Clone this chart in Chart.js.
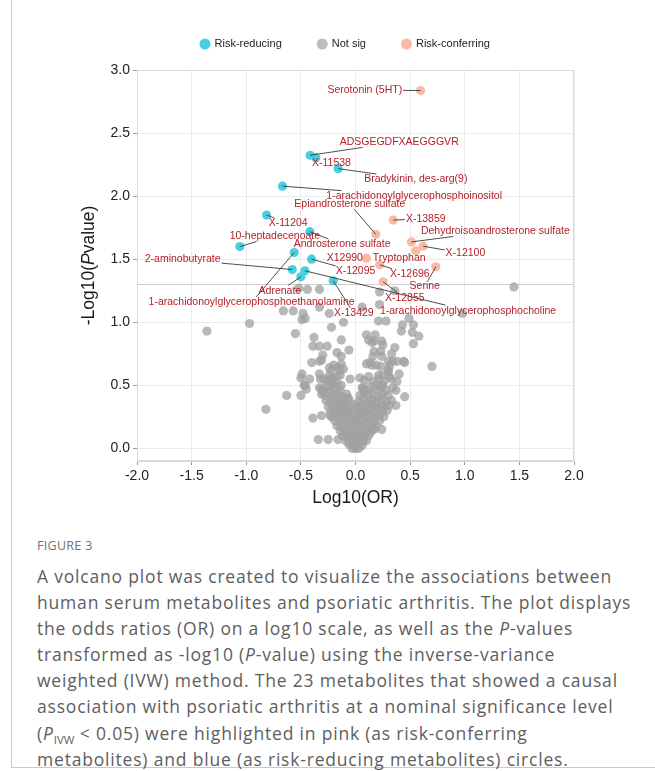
<!DOCTYPE html>
<html>
<head>
<meta charset="utf-8">
<script src="https://cdn.jsdelivr.net/npm/chart.js@4.4.1/dist/chart.umd.min.js"></script>
<style>
  html, body { margin: 0; padding: 0; background: #fff; }
  body { width: 655px; height: 771px; position: relative; overflow: hidden; }
  #frame { position: absolute; left: 11px; top: -2px; width: 650px; height: 769px;
           border-left: 1px solid #c9c9c9; border-bottom: 1px solid #c9c9c9; }
  #chart { position: absolute; left: 0; top: 0; }
  #figlabel { position: absolute; left: 37px; top: 537px; font: 500 12.5px 'Open Sans', Lato, sans-serif;
              color: #727272; letter-spacing: 0.3px; }
  #caption { position: absolute; left: 37px; top: 563px; font: 400 17.5px 'Open Sans', Lato, sans-serif;
             color: #5e5e5e; line-height: 26.1px; white-space: nowrap; }
  #caption div { display: block; width: max-content; }
  #caption sub { font-size: 11.5px; vertical-align: -4px; line-height: 0; letter-spacing: 0; }
</style>
</head>
<body>
<div id="frame"></div>
<canvas id="chart" width="655" height="520"></canvas>
<div id="figlabel">FIGURE 3</div>
<div id="caption">
<div id="firstLine">A volcano plot was created to visualize the associations between</div>
<div>human serum metabolites and psoriatic arthritis. The plot displays</div>
<div>the odds ratios (OR) on a log10 scale, as well as the <i>P</i>-values</div>
<div>transformed as -log10 (<i>P</i>-value) using the inverse-variance</div>
<div>weighted (IVW) method. The 23 metabolites that showed a causal</div>
<div>association with psoriatic arthritis at a nominal significance level</div>
<div>(<i>P</i><sub>IVW</sub> &lt; 0.05) were highlighted in pink (as risk-conferring</div>
<div>metabolites) and blue (as risk-reducing metabolites) circles.</div>
</div>
<script>
// axis ticks
var xTicks = [-2.0, -1.5, -1.0, -0.5, 0.0, 0.5, 1.0, 1.5, 2.0];
var yTicks = [0.0, 0.5, 1.0, 1.5, 2.0, 2.5, 3.0];
var pThreshold = 0.05;

// risk-reducing metabolites (blue)
var reducingNames = ['ADSGEGDFXAEGGGVR', 'X-11538', 'Bradykinin, des-arg(9)',
  '1-arachidonoylglycerophosphoinositol', 'X-11204', '10-heptadecenoate', 'Androsterone sulfate',
  '2-aminobutyrate', '1-arachidonoylglycerophosphoethanolamine', 'Adrenate', 'X-12095',
  '1-arachidonoylglycerophosphocholine', 'X-13429'];
var reducingLogOR = [-0.415, -0.363, -0.159, -0.668, -0.814, -1.058, -0.418, -0.579, -0.561, -0.50, -0.402, -0.463, -0.204];
var reducingLogP = [2.324, 2.305, 2.218, 2.079, 1.850, 1.600, 1.718, 1.418, 1.553, 1.360, 1.500, 1.408, 1.329];

// risk-conferring metabolites (pink)
var conferringNames = ['Serotonin (5HT)', 'Epiandrosterone sulfate', 'X-13859', 'Dehydroisoandrosterone sulfate',
  'X-12100', 'Tryptophan', 'X12990', 'X-12696', 'Serine', 'X-12855'];
var conferringLogOR = [0.595, 0.186, 0.345, 0.512, 0.619, 0.552, 0.100, 0.223, 0.735, 0.253];
var conferringLogP = [2.837, 1.697, 1.810, 1.637, 1.603, 1.566, 1.508, 1.455, 1.440, 1.321];

// non-significant metabolites (grey), [log10 OR, -log10 P]
var notSigPoints = [
  [-1.36, 0.93], [-0.97, 0.99], [-0.82, 0.31], [1.45, 1.28], [0.98, 1.07], [0.70, 0.65],
  [-0.52, 1.27], [-0.44, 1.26], [-0.33, 1.26], [0.22, 1.24], [0.36, 1.25],
  [-0.66, 1.09], [-0.57, 1.09], [-0.48, 1.07], [-0.46, 1.03], [-0.33, 1.12], [-0.24, 1.07], [0.06, 1.12], [0.22, 1.14],
  [-0.49, 1.02], [-0.11, 1.00], [0.21, 1.01], [0.28, 1.01], [0.49, 1.03], [0.43, 0.98], [0.53, 0.98], [0.42, 0.93],
  [0.52, 0.92], [0.58, 0.89], [-0.55, 0.91], [-0.22, 0.96], [-0.38, 0.88], [0.10, 0.90], [0.18, 0.90], [0.12, 0.86],
  [0.15, 0.84], [0.17, 0.85], [0.24, 0.85], [0.25, 0.82], [0.53, 0.83], [-0.13, 0.86], [-0.39, 0.81], [-0.33, 0.81],
  [-0.26, 0.81], [-0.17, 0.76], [-0.13, 0.73], [-0.06, 0.78], [-0.30, 0.74], [-0.33, 0.69], [-0.40, 0.68], [-0.31, 0.70],
  [-0.20, 0.66], [-0.24, 0.64], [-0.16, 0.64], [-0.11, 0.63], [-0.13, 0.67], [-0.24, 0.58], [-0.17, 0.57], [-0.14, 0.58],
  [0.36, 0.80], [0.17, 0.77], [0.23, 0.77], [0.33, 0.75], [0.16, 0.73], [0.24, 0.73], [0.30, 0.69], [0.34, 0.69],
  [0.38, 0.69], [0.44, 0.69], [0.45, 0.68], [0.10, 0.67], [0.13, 0.68], [0.15, 0.66], [0.23, 0.65], [0.19, 0.66],
  [0.31, 0.65], [0.30, 0.61], [0.31, 0.57], [0.25, 0.58], [0.21, 0.58], [0.40, 0.59], [0.38, 0.53], [0.30, 0.62],
  [-0.49, 0.59], [-0.50, 0.56], [-0.42, 0.55], [-0.47, 0.50], [-0.45, 0.47], [-0.63, 0.42], [-0.50, 0.42],
  [-0.33, 0.59], [-0.33, 0.48], [-0.30, 0.45], [-0.32, 0.55], [-0.23, 0.55], [-0.14, 0.62], [-0.22, 0.62],
  [-0.05, 0.55], [0.04, 0.56], [-0.20, 0.51], [-0.13, 0.50], [-0.31, 0.43], [-0.46, 0.50],
  [-0.39, 0.24], [-0.34, 0.07], [-0.25, 0.07], [-0.16, 0.07], [-0.31, 0.26], [-0.23, 0.26], [0.24, 0.15],
  [0.45, 0.41], [0.37, 0.34], [0.37, 0.46], [0.25, 0.50], [0.20, 0.50], [-0.07, 0.40], [0.07, 0.48],
  // dense core of the volcano
  [-0.29, 0.55], [-0.25, 0.53], [-0.21, 0.56], [-0.17, 0.52], [0.08, 0.54], [0.12, 0.57], [0.16, 0.53], [0.21, 0.55],
  [0.26, 0.53], [0.33, 0.55],
  [-0.31, 0.47], [-0.27, 0.49], [-0.23, 0.47], [-0.19, 0.48], [-0.14, 0.46], [0.06, 0.48], [0.10, 0.46], [0.14, 0.49],
  [0.18, 0.47], [0.23, 0.48], [0.28, 0.46], [0.34, 0.48],
  [-0.28, 0.42], [-0.24, 0.44], [-0.20, 0.42], [-0.16, 0.43], [-0.12, 0.41], [-0.08, 0.43], [0.04, 0.42], [0.08, 0.44],
  [0.12, 0.42], [0.16, 0.43], [0.21, 0.41], [0.25, 0.43], [0.30, 0.42],
  [-0.27, 0.38], [-0.23, 0.37], [-0.19, 0.39], [-0.15, 0.37], [-0.11, 0.38], [-0.06, 0.39], [0.03, 0.37], [0.07, 0.39],
  [0.11, 0.37], [0.15, 0.38], [0.19, 0.37], [0.24, 0.39], [0.28, 0.37], [0.33, 0.38],
  [-0.25, 0.33], [-0.21, 0.34], [-0.17, 0.33], [-0.13, 0.35], [-0.09, 0.33], [-0.05, 0.34], [-0.01, 0.35], [0.03, 0.33],
  [0.07, 0.34], [0.11, 0.33], [0.15, 0.35], [0.19, 0.33], [0.23, 0.34], [0.27, 0.33], [0.31, 0.34],
  [-0.23, 0.29], [-0.19, 0.30], [-0.15, 0.29], [-0.11, 0.31], [-0.07, 0.29], [-0.03, 0.30], [0.01, 0.29], [0.05, 0.31],
  [0.09, 0.29], [0.13, 0.30], [0.17, 0.29], [0.21, 0.31], [0.25, 0.29], [0.29, 0.30],
  [-0.22, 0.25], [-0.18, 0.26], [-0.14, 0.25], [-0.10, 0.27], [-0.06, 0.25], [-0.02, 0.26], [0.02, 0.25], [0.06, 0.27],
  [0.10, 0.25], [0.14, 0.26], [0.18, 0.25], [0.22, 0.26], [0.26, 0.25],
  [-0.19, 0.22], [-0.15, 0.21], [-0.11, 0.23], [-0.07, 0.21], [-0.03, 0.22], [0.01, 0.21], [0.05, 0.23], [0.09, 0.21],
  [0.13, 0.22], [0.17, 0.21], [0.22, 0.22],
  [-0.17, 0.18], [-0.13, 0.17], [-0.09, 0.18], [-0.05, 0.17], [-0.01, 0.19], [0.03, 0.17], [0.07, 0.18], [0.11, 0.17],
  [0.15, 0.18], [0.19, 0.17],
  [-0.14, 0.14], [-0.10, 0.13], [-0.06, 0.14], [-0.02, 0.13], [0.02, 0.14], [0.06, 0.13], [0.10, 0.14], [0.14, 0.13],
  [0.17, 0.15],
  [-0.12, 0.10], [-0.08, 0.09], [-0.04, 0.10], [0.00, 0.09], [0.04, 0.10], [0.08, 0.09], [0.12, 0.10],
  [-0.09, 0.06], [-0.05, 0.05], [-0.01, 0.06], [0.03, 0.05], [0.07, 0.06], [0.10, 0.06],
  [-0.06, 0.03], [-0.02, 0.02], [0.02, 0.03], [0.06, 0.02],
  [-0.03, 0.00], [0.00, 0.00], [0.03, 0.00]
];

// where ggrepel put each text label (centre of the text, in axis units)
var labelSpots = {
  'Serotonin (5HT)': [0.085, 2.842],
  'ADSGEGDFXAEGGGVR': [0.40, 2.43],
  'X-11538': [-0.22, 2.258],
  'Bradykinin, des-arg(9)': [0.552, 2.132],
  '1-arachidonoylglycerophosphoinositol': [0.537, 2.0],
  'Epiandrosterone sulfate': [-0.052, 1.937],
  'X-11204': [-0.616, 1.784],
  '10-heptadecenoate': [-0.738, 1.684],
  'Androsterone sulfate': [-0.122, 1.618],
  'X-13859': [0.643, 1.821],
  'Dehydroisoandrosterone sulfate': [1.28, 1.724],
  'X-12100': [1.006, 1.545],
  'Tryptophan': [0.40, 1.508],
  'X12990': [-0.098, 1.508],
  '2-aminobutyrate': [-1.582, 1.497],
  'X-12095': [0.0, 1.403],
  'X-12696': [0.497, 1.382],
  'Serine': [0.634, 1.284],
  'Adrenate': [-0.692, 1.25],
  '1-arachidonoylglycerophosphoethanolamine': [-0.951, 1.158],
  'X-13429': [-0.015, 1.071],
  'X-12855': [0.451, 1.192],
  '1-arachidonoylglycerophosphocholine': [1.03, 1.092]
};

var FONT = "'Liberation Sans', Arial, Helvetica, sans-serif";
var BLUE = '#48cfe0';
var PINK = '#f9b9a3';
var GREY = 'rgba(160,160,160,0.75)';
var LABEL_RED = '#b2222a';

function toPoints(xs, ys) {
  return xs.map(function (v, i) { return { x: v, y: ys[i] }; });
}

var volcanoExtras = {
  id: 'volcanoExtras',
  beforeDatasetsDraw: function (chart) {
    var ctx = chart.ctx, a = chart.chartArea, y = chart.scales.y;
    ctx.save();
    // panel border top/right
    ctx.strokeStyle = '#d9d9d9';
    ctx.lineWidth = 1;
    ctx.strokeRect(a.left + 0.5, a.top + 0.5, a.right - a.left - 1, a.bottom - a.top - 1);
    // nominal significance line
    var yp = Math.round(y.getPixelForValue(-Math.log10(pThreshold))) + 0.5;
    ctx.strokeStyle = '#cfcfcf';
    ctx.beginPath();
    ctx.moveTo(a.left, yp);
    ctx.lineTo(a.right, yp);
    ctx.stroke();
    ctx.restore();
  },
  afterDatasetsDraw: function (chart) {
    var ctx = chart.ctx, xs = chart.scales.x, ys = chart.scales.y;
    var items = [];
    reducingNames.forEach(function (n, i) { items.push([n, reducingLogOR[i], reducingLogP[i]]); });
    conferringNames.forEach(function (n, i) { items.push([n, conferringLogOR[i], conferringLogP[i]]); });
    ctx.save();
    ctx.font = '10.5px ' + FONT;
    ctx.textAlign = 'center';
    ctx.textBaseline = 'middle';
    var h = 11;
    // segments first, then the text on top
    items.forEach(function (it) {
      var spot = labelSpots[it[0]];
      var px = xs.getPixelForValue(it[1]), py = ys.getPixelForValue(it[2]);
      var lx = xs.getPixelForValue(spot[0]), ly = ys.getPixelForValue(spot[1]);
      var w = ctx.measureText(it[0]).width + 2;
      var dx = px - lx, dy = py - ly;
      if (Math.abs(dx) <= w / 2 && Math.abs(dy) <= h / 2) return;
      var t = Math.min(dx !== 0 ? (w / 2) / Math.abs(dx) : Infinity, dy !== 0 ? (h / 2) / Math.abs(dy) : Infinity);
      var ex = lx + dx * t, ey = ly + dy * t;
      if (Math.hypot(px - ex, py - ey) < 7) return;
      ctx.strokeStyle = '#3a3a3a';
      ctx.lineWidth = 0.9;
      ctx.beginPath();
      ctx.moveTo(px, py);
      ctx.lineTo(ex, ey);
      ctx.stroke();
    });
    ctx.fillStyle = LABEL_RED;
    items.forEach(function (it) {
      var spot = labelSpots[it[0]];
      ctx.fillText(it[0], xs.getPixelForValue(spot[0]), ys.getPixelForValue(spot[1]));
    });
    ctx.restore();
  },
  afterDraw: function (chart) {
    var ctx = chart.ctx, a = chart.chartArea;
    ctx.save();
    // legend: Risk-reducing, Not sig, Risk-conferring
    var order = [1, 2, 0];
    ctx.font = '11px ' + FONT;
    ctx.textBaseline = 'middle';
    var r = 5.5, gapText = 4, gapItem = 35;
    var cx = 205 - r, ly = 44;
    order.forEach(function (k) {
      var ds = chart.data.datasets[k];
      ctx.fillStyle = ds.legendColor;
      ctx.beginPath();
      ctx.arc(cx + r, ly, r, 0, Math.PI * 2);
      ctx.fill();
      ctx.fillStyle = '#222';
      ctx.textAlign = 'left';
      ctx.fillText(ds.label, cx + r * 2 + gapText, ly);
      cx += r * 2 + gapText + ctx.measureText(ds.label).width + gapItem;
    });
    // x title
    ctx.font = '17.5px ' + FONT;
    ctx.fillStyle = '#1a1a1a';
    ctx.textAlign = 'center';
    ctx.fillText('Log10(OR)', (a.left + a.right) / 2, 498);
    // y title with italic P
    var parts = [['-Log10(', ''], ['P', 'italic '], ['value)', '']];
    var widths = parts.map(function (p) { ctx.font = p[1] + '17.5px ' + FONT; return ctx.measureText(p[0]).width; });
    var tw = widths.reduce(function (s, v) { return s + v; }, 0);
    ctx.translate(89, (a.top + a.bottom) / 2);
    ctx.rotate(-Math.PI / 2);
    ctx.textAlign = 'left';
    var x0 = -tw / 2;
    parts.forEach(function (p, i) {
      ctx.font = p[1] + '17.5px ' + FONT;
      ctx.fillText(p[0], x0, 0);
      x0 += widths[i];
    });
    ctx.restore();
  }
};

var ctx = document.getElementById('chart').getContext('2d');
var volcano = new Chart(ctx, {
  type: 'scatter',
  data: {
    datasets: [
      { label: 'Risk-conferring', data: toPoints(conferringLogOR, conferringLogP),
        backgroundColor: PINK, legendColor: PINK, pointRadius: 4.6, borderWidth: 0 },
      { label: 'Risk-reducing', data: toPoints(reducingLogOR, reducingLogP),
        backgroundColor: BLUE, legendColor: BLUE, pointRadius: 4.6, borderWidth: 0 },
      { label: 'Not sig', data: notSigPoints.map(function (p) { return { x: p[0], y: p[1] }; }),
        backgroundColor: GREY, legendColor: '#bdbdbd', pointRadius: 4.6, borderWidth: 0 }
    ]
  },
  options: {
    responsive: false,
    animation: false,
    events: [],
    layout: { padding: { left: 0, right: 81, top: 70, bottom: 0 } },
    plugins: { legend: { display: false }, tooltip: { enabled: false } },
    scales: {
      x: {
        type: 'linear', min: -2, max: 2,
        afterBuildTicks: function (s) { s.ticks = xTicks.map(function (v) { return { value: v }; }); },
        afterFit: function (s) { s.height = 59; },
        ticks: { autoSkip: false, maxRotation: 0, padding: 3, color: '#222',
                 font: { family: FONT, size: 14 }, callback: function (v) { return v.toFixed(1); } },
        grid: { color: '#ebebeb', tickColor: '#9c9c9c', tickLength: 4 },
        border: { color: '#d9d9d9' }
      },
      y: {
        type: 'linear', min: -0.1, max: 3.0,
        afterBuildTicks: function (s) { s.ticks = yTicks.map(function (v) { return { value: v }; }); },
        afterFit: function (s) { s.width = 137; },
        ticks: { autoSkip: false, padding: 3, color: '#222',
                 font: { family: FONT, size: 14 }, callback: function (v) { return v.toFixed(1); } },
        grid: { color: '#ebebeb', tickColor: '#9c9c9c', tickLength: 4 },
        border: { color: '#d9d9d9' }
      }
    }
  },
  plugins: [volcanoExtras]
});

// caption: keep the type size, open the letter spacing so line one spans like the figure's
var cap = document.getElementById('caption');
var firstLine = document.getElementById('firstLine');
var firstW = firstLine.getBoundingClientRect().width;
cap.style.letterSpacing = ((575 - firstW) / firstLine.textContent.length).toFixed(3) + 'px';
</script>
</body>
</html>
